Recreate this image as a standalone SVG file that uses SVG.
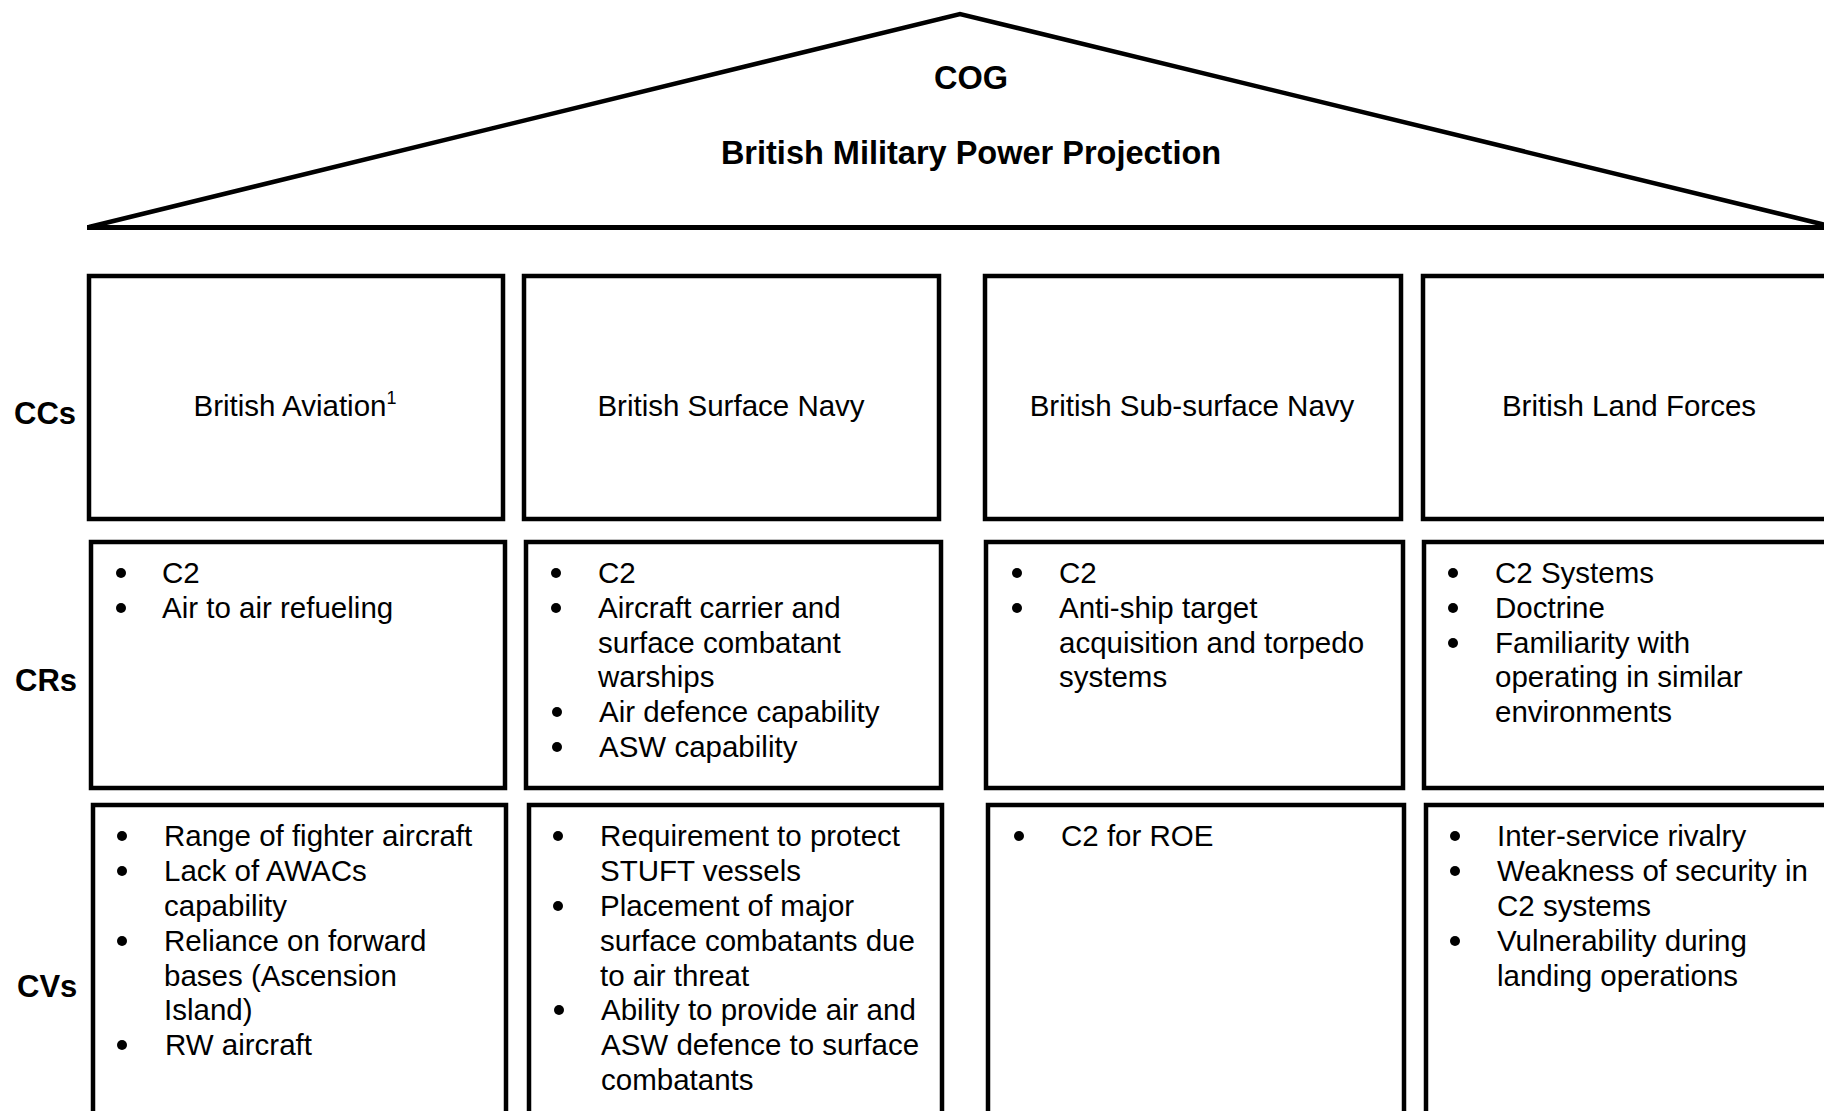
<svg xmlns="http://www.w3.org/2000/svg" width="1824" height="1111" viewBox="0 0 1824 1111">
<style>
.box{fill:none;stroke:#000;stroke-width:4.5}
.roof{fill:none;stroke:#000;stroke-width:4.5;stroke-linejoin:miter}
.t{font-family:"Liberation Sans",Arial,sans-serif;font-size:29.5px;fill:#000}
.b{font-family:"Liberation Sans",Arial,sans-serif;font-size:31px;font-weight:bold;fill:#000}
.h{font-size:32.5px}
.c{text-anchor:middle}
.dot{fill:#000}
</style>
<rect width="1824" height="1111" fill="#fff"/>
<g id="roof">
<polyline class="roof" points="89,227 960,14 1834,227"/>
<line x1="87" y1="227.5" x2="1824" y2="227.5" stroke="#000" stroke-width="5"/>
<text class="b h c" x="971" y="89">COG</text>
<text class="b h c" x="971" y="164">British Military Power Projection</text>
</g>
<g id="labels">
<text class="b" x="14" y="424">CCs</text>
<text class="b" x="15" y="691">CRs</text>
<text class="b" x="17" y="997">CVs</text>
</g>
<g id="connectors"></g>
<g id="cc1"><rect class="box" x="89" y="276" width="414" height="243"/><text class="t c" x="295" y="416">British Aviation<tspan font-size="18" dy="-12">1</tspan></text></g>
<g id="cc2"><rect class="box" x="524" y="276" width="415" height="243"/><text class="t c" x="731" y="416">British Surface Navy</text></g>
<g id="cc3"><rect class="box" x="985" y="276" width="416" height="243"/><text class="t c" x="1192" y="416">British Sub-surface Navy</text></g>
<g id="cc4"><rect class="box" x="1423" y="276" width="410" height="243"/><text class="t c" x="1629" y="416">British Land Forces</text></g>

<g id="cr1"><rect class="box" x="91" y="542" width="414" height="246"/>
<circle class="dot" cx="121" cy="573" r="5"/><circle class="dot" cx="121" cy="608" r="5"/>
<text class="t" x="162" y="583">C2</text><text class="t" x="162" y="618">Air to air refueling</text></g>
<g id="cr2"><rect class="box" x="526" y="542" width="415" height="246"/>
<circle class="dot" cx="556" cy="573" r="5"/><circle class="dot" cx="556" cy="608" r="5"/><circle class="dot" cx="557" cy="712" r="5"/><circle class="dot" cx="557" cy="747" r="5"/>
<text class="t" x="598" y="583">C2</text><text class="t" x="598" y="618">Aircraft carrier and</text><text class="t" x="598" y="653">surface combatant</text><text class="t" x="598" y="687">warships</text><text class="t" x="599" y="722">Air defence capability</text><text class="t" x="599" y="757">ASW capability</text></g>
<g id="cr3"><rect class="box" x="986" y="542" width="417" height="246"/>
<circle class="dot" cx="1017" cy="573" r="5"/><circle class="dot" cx="1017" cy="608" r="5"/>
<text class="t" x="1059" y="583">C2</text><text class="t" x="1059" y="618">Anti-ship target</text><text class="t" x="1059" y="653">acquisition and torpedo</text><text class="t" x="1059" y="687">systems</text></g>
<g id="cr4"><rect class="box" x="1424" y="542" width="410" height="246"/>
<circle class="dot" cx="1453" cy="573" r="5"/><circle class="dot" cx="1453" cy="608" r="5"/><circle class="dot" cx="1453" cy="643" r="5"/>
<text class="t" x="1495" y="583">C2 Systems</text><text class="t" x="1495" y="618">Doctrine</text><text class="t" x="1495" y="653">Familiarity with</text><text class="t" x="1495" y="687">operating in similar</text><text class="t" x="1495" y="722">environments</text></g>

<g id="cv1"><rect class="box" x="93" y="805" width="413" height="310"/>
<circle class="dot" cx="122" cy="836" r="5"/><circle class="dot" cx="122" cy="871" r="5"/><circle class="dot" cx="122" cy="941" r="5"/><circle class="dot" cx="122" cy="1045" r="5"/>
<text class="t" x="164" y="846">Range of fighter aircraft</text><text class="t" x="164" y="881">Lack of AWACs</text><text class="t" x="164" y="916">capability</text><text class="t" x="164" y="951">Reliance on forward</text><text class="t" x="164" y="986">bases (Ascension</text><text class="t" x="164" y="1020">Island)</text><text class="t" x="165" y="1055">RW aircraft</text></g>
<g id="cv2"><rect class="box" x="529" y="805" width="413" height="310"/>
<circle class="dot" cx="558" cy="836" r="5"/><circle class="dot" cx="558" cy="906" r="5"/><circle class="dot" cx="559" cy="1010" r="5"/>
<text class="t" x="600" y="846">Requirement to protect</text><text class="t" x="600" y="881">STUFT vessels</text><text class="t" x="600" y="916">Placement of major</text><text class="t" x="600" y="951">surface combatants due</text><text class="t" x="600" y="986">to air threat</text><text class="t" x="601" y="1020">Ability to provide air and</text><text class="t" x="601" y="1055">ASW defence to surface</text><text class="t" x="601" y="1090">combatants</text></g>
<g id="cv3"><rect class="box" x="988" y="805" width="416" height="310"/>
<circle class="dot" cx="1019" cy="836" r="5"/>
<text class="t" x="1061" y="846">C2 for ROE</text></g>
<g id="cv4"><rect class="box" x="1426" y="805" width="410" height="310"/>
<circle class="dot" cx="1455" cy="836" r="5"/><circle class="dot" cx="1455" cy="871" r="5"/><circle class="dot" cx="1455" cy="941" r="5"/>
<text class="t" x="1497" y="846">Inter-service rivalry</text><text class="t" x="1497" y="881">Weakness of security in</text><text class="t" x="1497" y="916">C2 systems</text><text class="t" x="1497" y="951">Vulnerability during</text><text class="t" x="1497" y="986">landing operations</text></g>
</svg>
